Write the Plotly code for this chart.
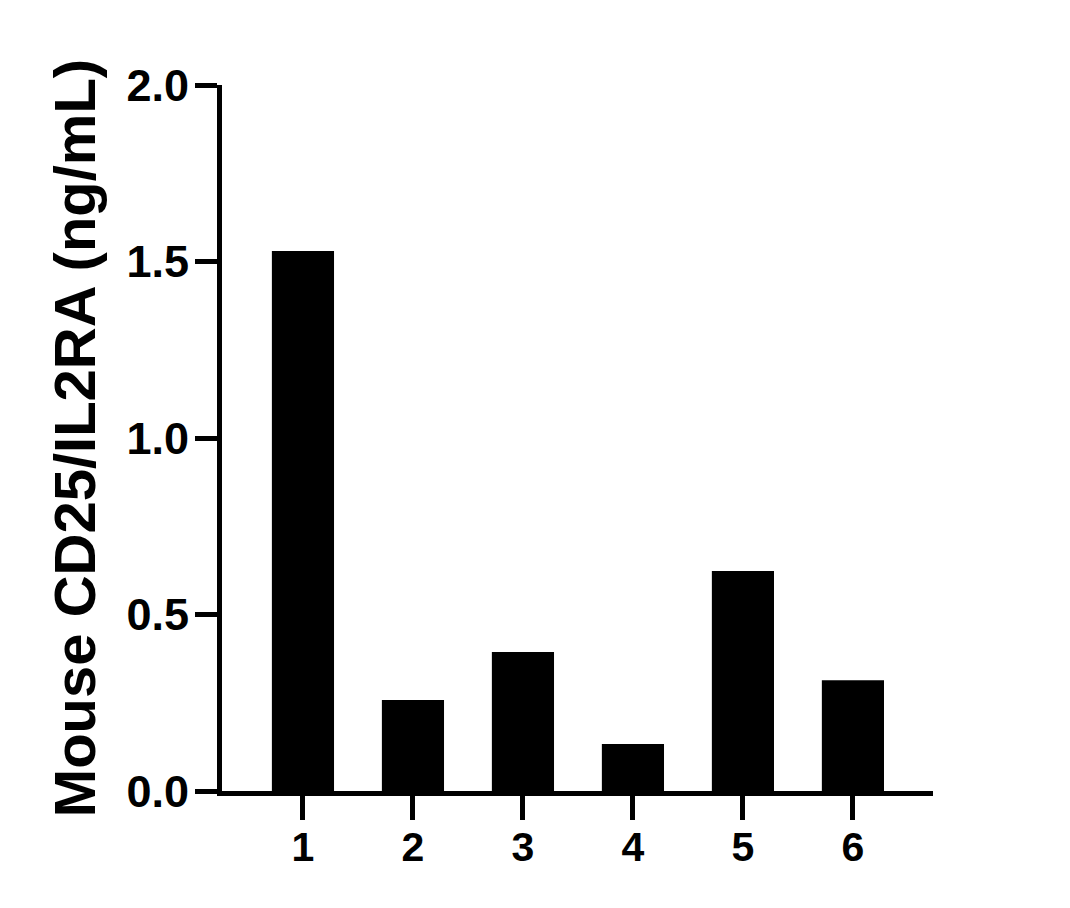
import plotly.graph_objs as go

# sample groups and measured concentration
samples = ['1', '2', '3', '4', '5', '6']
conc = [1.53, 0.258, 0.394, 0.133, 0.623, 0.314]
y_ticks = [0.0, 0.5, 1.0, 1.5, 2.0]
y_ticklabels = ['0.0', '0.5', '1.0', '1.5', '2.0']

FONT = 'Liberation Sans, Arial, sans-serif'

fig = go.Figure()
fig.add_trace(go.Bar(x=[int(s) for s in samples], y=conc,
                     width=0.565,
                     marker=dict(color='black', line=dict(width=0)),
                     showlegend=False))

# page has ~8px body offset, so margins are shifted to compensate
fig.update_layout(
    width=1070, height=908,
    margin=dict(l=214, r=145, t=77, b=125),
    plot_bgcolor='white',
    paper_bgcolor='white',
    font=dict(family=FONT, color='black'),
)

fig.update_xaxes(range=[0.264, 6.728],
                 tickvals=[int(s) for s in samples], ticktext=samples,
                 ticks='outside', ticklen=24, tickwidth=5, tickcolor='black',
                 ticklabelstandoff=-8,
                 showline=True, linewidth=5, linecolor='black',
                 showgrid=False, zeroline=False,
                 tickfont=dict(family=FONT, size=41, weight='bold', color='black'))

fig.update_yaxes(range=[0, 2.0],
                 tickvals=y_ticks, ticktext=y_ticklabels,
                 ticks='outside', ticklen=22, tickwidth=5, tickcolor='black',
                 ticklabelstandoff=-3,
                 showline=True, linewidth=5, linecolor='black',
                 showgrid=False, zeroline=False,
                 tickfont=dict(family=FONT, size=45, weight='bold', color='black'),
                 title=dict(text='Mouse CD25/IL2RA (ng/mL)', standoff=14,
                            font=dict(family=FONT, size=58, weight='bold', color='black')))

fig.write_html("out.html")
